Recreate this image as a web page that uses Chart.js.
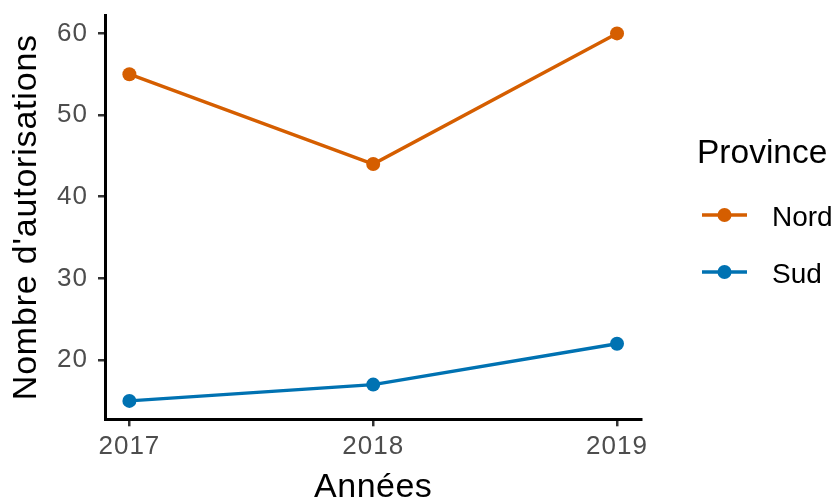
<!DOCTYPE html>
<html>
<head>
<meta charset="utf-8">
<script src="https://cdn.jsdelivr.net/npm/chart.js@4"></script>
<style>
  html, body { margin: 0; padding: 0; background: #ffffff; }
  #wrap { width: 839px; height: 500px; }
</style>
</head>
<body>
<div id="wrap"><canvas id="c" width="839" height="500"></canvas></div>
<script>
const years = [2017, 2018, 2019];
const nord = [55, 44, 60];
const sud = [15, 17, 22];
const yTickValues = [20, 30, 40, 50, 60];
const xTickValues = [2017, 2018, 2019];
const seriesNames = ['Nord', 'Sud'];
const legendTitle = 'Province';
const xTitle = 'Années';
const yTitle = "Nombre d'autorisations";

const FONT = "'Liberation Sans', Arial, sans-serif";
const colors = ['#D55E00', '#0072B2'];

const textPlugin = {
  id: 'ggText',
  beforeDraw(chart) {
    chart.ctx.letterSpacing = '1px';
  },
  afterDraw(chart) {
    const ctx = chart.ctx;
    const ca = chart.chartArea;
    ctx.save();
    ctx.fillStyle = '#000000';
    // y axis title
    ctx.letterSpacing = '0.8px';
    ctx.font = '34px ' + FONT;
    ctx.textAlign = 'center';
    ctx.textBaseline = 'alphabetic';
    ctx.save();
    ctx.translate(36, (ca.top + ca.bottom) / 2);
    ctx.rotate(-Math.PI / 2);
    ctx.fillText(yTitle, 0, 0);
    ctx.restore();
    // x axis title
    ctx.letterSpacing = '0.5px';
    ctx.fillText(xTitle, (ca.left + ca.right) / 2, 497);
    // legend
    ctx.letterSpacing = '0px';
    ctx.textAlign = 'left';
    ctx.font = '33.5px ' + FONT;
    ctx.fillText(legendTitle, 697, 163);
    const rows = [215, 272];
    chart.data.datasets.forEach((ds, i) => {
      const y = rows[i];
      ctx.strokeStyle = ds.borderColor;
      ctx.lineWidth = 3.4;
      ctx.beginPath();
      ctx.moveTo(702, y);
      ctx.lineTo(747, y);
      ctx.stroke();
      ctx.fillStyle = ds.backgroundColor;
      ctx.beginPath();
      ctx.arc(724.5, y, 7, 0, Math.PI * 2);
      ctx.fill();
      ctx.fillStyle = '#000000';
      ctx.font = '28px ' + FONT;
      ctx.fillText(ds.label, 772, y + 10.5);
    });
    ctx.restore();
  }
};

const toXY = (vals) => years.map((yr, i) => ({ x: yr, y: vals[i] }));

new Chart(document.getElementById('c'), {
  type: 'line',
  data: {
    datasets: [
      { label: seriesNames[0], data: toXY(nord), borderColor: colors[0], backgroundColor: colors[0],
        borderWidth: 3.4, pointRadius: 7, pointHoverRadius: 7, pointBorderWidth: 0, tension: 0 },
      { label: seriesNames[1], data: toXY(sud), borderColor: colors[1], backgroundColor: colors[1],
        borderWidth: 3.4, pointRadius: 7, pointHoverRadius: 7, pointBorderWidth: 0, tension: 0 }
    ]
  },
  options: {
    responsive: false,
    animation: false,
    devicePixelRatio: 1,
    layout: { padding: { left: 0, right: 197.6, top: 15, bottom: 0 } },
    plugins: { legend: { display: false }, tooltip: { enabled: false } },
    scales: {
      x: {
        type: 'linear',
        min: 2016.9,
        max: 2019.1,
        afterBuildTicks: (s) => { s.ticks = xTickValues.map(v => ({ value: v })); },
        afterFit: (s) => { s.height = 500 - 419.3; s.paddingLeft = 0; s.paddingRight = 0; },
        ticks: { color: '#4D4D4D', font: { family: FONT, size: 26, lineHeight: 1 }, padding: 8,
                 maxRotation: 0, autoSkip: false, callback: (v) => String(v) },
        grid: { drawOnChartArea: false, drawTicks: true, tickLength: 7, color: '#333333', lineWidth: 2.5 },
        border: { display: true, color: '#000000', width: 3 },
        title: { display: false }
      },
      y: {
        type: 'linear',
        min: 12.75,
        max: 62.25,
        afterBuildTicks: (s) => { s.ticks = yTickValues.map(v => ({ value: v })); },
        afterFit: (s) => { s.width = 105; s.paddingTop = 0; s.paddingBottom = 0; },
        ticks: { color: '#4D4D4D', font: { family: FONT, size: 26, lineHeight: 1 }, padding: 10,
                 callback: (v) => String(v) },
        grid: { drawOnChartArea: false, drawTicks: true, tickLength: 7, color: '#333333', lineWidth: 2.5 },
        border: { display: true, color: '#000000', width: 3 },
        title: { display: false }
      }
    }
  },
  plugins: [textPlugin]
});
</script>
</body>
</html>
